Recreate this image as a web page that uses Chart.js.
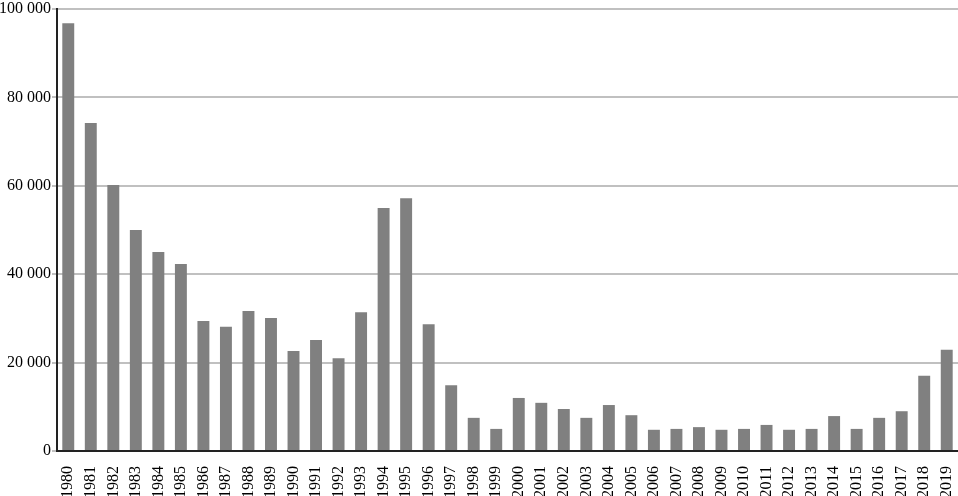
<!DOCTYPE html>
<html>
<head>
<meta charset="UTF-8">
<script src="https://cdn.jsdelivr.net/npm/chart.js"></script>
<style>
  html, body { margin: 0; padding: 0; background: #fff; }
  #wrap { width: 958px; height: 496px; }
</style>
</head>
<body>
<div id="wrap"><canvas id="chart" width="958" height="496"></canvas></div>
<script>
const years = [];
for (let y = 1980; y <= 2019; y++) years.push(String(y));

const values = [
  96800, 74200, 60200, 50000, 45000, 42300, 29400, 28100, 31700, 30100,
  22600, 25100, 21000, 31400, 55000, 57200, 28700, 14900, 7500, 5000,
  12000, 10900, 9500, 7500, 10400, 8100, 4800, 5000, 5400, 4800,
  5000, 5900, 4800, 5000, 7900, 5000, 7500, 9000, 17000, 22900
];

const yTicks = [0, 20000, 40000, 60000, 80000, 100000];

function fmt(v) {
  return String(v).replace(/\B(?=(\d{3})+(?!\d))/g, " ");
}

const font = { family: "'Liberation Serif', 'Times New Roman', serif", size: 16 };

new Chart(document.getElementById("chart"), {
  type: "bar",
  data: {
    labels: years,
    datasets: [{
      data: values,
      backgroundColor: "#808080",
      categoryPercentage: 1,
      barPercentage: 0.53
    }]
  },
  options: {
    responsive: false,
    animation: false,
    layout: { padding: { top: 9, right: 0, left: 0, bottom: 0 } },
    plugins: { legend: { display: false }, tooltip: { enabled: false } },
    scales: {
      x: {
        grid: { display: false },
        border: { display: true, color: "#222", width: 2 },
        ticks: {
          color: "#000",
          font: font,
          minRotation: 90,
          maxRotation: 90,
          autoSkip: false,
          padding: 7
        },
        afterFit: (s) => { s.height = 45; s.paddingLeft = 0; s.paddingRight = 0; }
      },
      y: {
        z: 1,
        min: 0,
        max: 100000,
        afterBuildTicks: (s) => { s.ticks = yTicks.map(v => ({ value: v })); },
        grid: { color: "#c0c0c0", lineWidth: 2, tickLength: 5, drawTicks: true },
        border: { display: true, color: "#222", width: 2 },
        ticks: {
          color: "#000",
          font: font,
          padding: 1,
          callback: (v) => fmt(v)
        },
        afterFit: (s) => { s.width = 57; s.paddingTop = 0; s.paddingBottom = 0; }
      }
    }
  }
});
</script>
</body>
</html>
